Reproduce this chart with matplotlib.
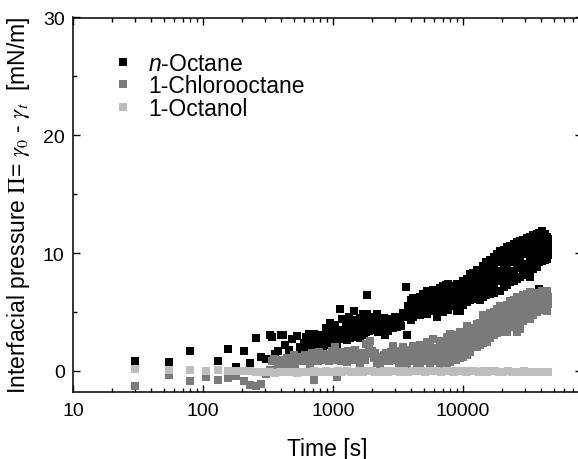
import matplotlib
matplotlib.use("Agg")
import matplotlib.pyplot as plt
from matplotlib.ticker import LogLocator, NullFormatter, MultipleLocator

plt.rcParams['font.family'] = ['Liberation Sans', 'DejaVu Sans']
plt.rcParams['mathtext.fontset'] = 'custom'
plt.rcParams['mathtext.rm'] = 'Liberation Sans'
plt.rcParams['mathtext.it'] = 'Liberation Sans:italic'

# n-Octane: early scattered points
octane_t = [30, 55, 80, 130, 155, 180, 205, 230, 255, 280, 305, 325, 340, 355, 380,
            395, 410, 430, 455, 480, 500, 530, 555, 575, 600, 620, 630, 640, 655, 680,
            690, 705, 720, 730, 750, 760, 770, 790, 800, 820, 840, 850, 870, 880, 900,
            910, 930, 950, 960, 980, 990, 1010, 1040, 1050, 1070, 1090, 1100, 1130, 1140,
            1160, 1180, 1200, 1220, 1250, 1280, 1300, 1330, 1350, 1370, 1400, 1420, 1440,
            1450, 1480, 1500, 1530, 1550, 1560, 1600, 1620, 1650, 1680, 1700, 1720, 1750,
            1780, 1800, 1820, 1840, 1870, 1900, 1950, 1980, 2000, 2050, 2100, 2130, 2170,
            2200, 2250, 2300, 2350, 2380, 2440, 2480, 2500, 2550, 2600, 2660, 2720, 2800,
            2880, 2950, 3000, 3100, 3180, 3270, 3350, 3450, 3550, 3620, 3680, 3790]
octane_v = [0.85, 0.75, 1.7, 0.8, 1.85, 0.3, 1.65, 0.7, 2.75, 1.2, 1.0, 3.0, 2.9, 1.4, 1.7,
            3.0, 3.05, 2.2, 1.8, 2.7, 1.0, 2.95, 2.0, 1.6, 2.4, 2.9, 1.9, 2.6, 3.15, 2.3,
            1.5, 2.55, 3.1, 1.9, 2.0, 2.8, 2.2, 1.7, 2.6, 3.0, 1.9, 2.3, 2.9, 3.6, 3.2,
            2.6, 3.4, 4.1, 2.2, 3.0, 2.7, 2.5, 3.9, 3.4, 2.2, 3.2, 2.8, 5.25, 2.7,
            3.5, 4.4, 2.9, 3.4, 3.9, 2.6, 3.2, 4.6, 2.8, 3.5, 4.1, 3.3, 3.9,
            5.1, 2.9, 3.5, 4.3, 3.8, 3.0, 2.8, 4.5, 4.2, 3.7, 4.8, 3.0, 4.0,
            3.3, 3.9, 6.45, 4.85, 4.4, 3.4, 3.5, 3.9, 4.6, 4.3, 3.6, 4.0, 4.85,
            3.3, 3.6, 4.4, 3.3, 3.7, 4.1, 4.5, 3.0, 3.8, 4.2, 3.4, 3.9, 4.4,
            3.6, 4.0, 4.6, 3.7, 4.1, 4.4, 3.8, 4.9, 4.6, 7.1, 3.05, 5.5]

# n-Octane: dense late band
octane_late_t = [3950] * 4 + [4150] * 4 + [4400] * 3 + [4680] * 4 + [4950] * 4 + [5250] * 5 + \
                [5500] * 4 + [5870] * 5 + [6270] * 5 + [6600] * 5 + [7000] * 5 + [7400] * 5 + \
                [7710] * 5 + [8200] * 4 + [8920] * 5 + [9480] * 5 + [10000] * 5 + [10700] * 5 + \
                [11320] * 5 + [12000] * 5 + [12700] * 5 + [13500] * 5 + [14250] * 5 + [15100] * 5 + \
                [16140] * 5 + [17200] * 5 + [18200] * 5 + [19300] * 5 + [20500] * 5 + [21700] * 5 + \
                [23000] * 5 + [24500] * 5 + [25900] * 5 + [27500] * 5 + [29000] * 5 + [30800] * 5 + \
                [32700] * 6 + [34700] * 5 + [36800] * 5 + [38700] * 6 + [40700] * 5 + [42500] * 5 + \
                [44000] * 4 + [45000] * 4
octane_late_v = [4.3, 5.0, 5.6, 6.0, 4.6, 5.2, 5.6, 6.2, 4.8, 5.3, 5.9, 4.7, 5.1, 5.5, 6.24,
                 5.0, 5.4, 5.8, 6.5, 4.8, 5.2, 5.6, 6.2, 6.8,
                 5.2, 5.8, 6.3, 6.8, 5.1, 5.5, 6.0, 6.5, 6.9, 4.55, 5.1, 5.6, 6.1, 6.6,
                 5.3, 5.7, 6.2, 6.6, 7.0, 5.0, 5.5, 5.9, 6.5, 7.2, 5.4, 5.9, 6.4, 6.9, 7.3,
                 5.2, 5.7, 6.1, 6.8, 7.37, 5.5, 6.0, 6.6, 7.2, 5.1, 5.6, 6.0, 6.7, 7.37,
                 5.1, 5.8, 6.4, 6.9, 7.3, 5.6, 6.2, 6.7, 7.2, 7.6, 5.8, 6.4, 6.9, 7.4, 7.8,
                 6.0, 6.6, 7.1, 7.6, 8.2, 6.1, 6.7, 7.2, 7.8, 8.3, 6.2, 6.9, 7.5, 8.1, 8.6,
                 6.0, 6.7, 7.3, 7.9, 8.5, 6.24, 6.9, 7.6, 8.3, 8.9, 6.4, 7.1, 7.7, 8.5, 9.2,
                 6.5, 7.2, 8.0, 8.7, 9.4, 6.6, 7.4, 8.2, 9.0, 9.7, 6.8, 7.7, 8.5, 9.2, 9.9,
                 6.8, 7.6, 8.4, 9.3, 10.2, 7.1, 7.9, 8.8, 9.6, 10.3, 7.3, 8.1, 9.0, 9.8, 10.5,
                 7.5, 8.3, 9.2, 9.9, 10.6, 7.6, 8.5, 9.4, 10.1, 10.8, 7.8, 8.7, 9.5, 10.2, 10.9,
                 8.0, 8.8, 9.7, 10.4, 11.0, 8.1, 9.0, 9.9, 10.5, 11.1, 8.3, 9.1, 10.0, 10.7, 11.3,
                 8.0, 8.9, 9.5, 10.2, 10.8, 11.4, 8.64, 9.4, 10.1, 10.8, 11.5,
                 8.8, 9.5, 10.2, 10.9, 11.6, 6.95, 9.2, 9.9, 10.5, 11.1, 11.7,
                 9.3, 9.9, 10.6, 11.2, 11.9, 9.4, 10.0, 10.4, 11.0, 11.6,
                 9.5, 10.3, 10.9, 11.4, 9.8, 10.4, 10.8, 11.2]

# 1-Chlorooctane: early / middle points
chloro_t = [30, 55, 80, 105, 130, 155, 180, 205, 230, 255, 280, 305, 330, 340, 352,
            380, 395, 405, 427, 440, 450, 470, 480, 500, 510, 540, 560, 575, 610, 630,
            650, 670, 690, 715, 740, 760, 780, 800, 820, 860, 880, 895, 930, 960, 980,
            1000, 1030, 1060, 1070, 1100, 1120, 1150, 1200, 1240, 1270, 1300, 1330, 1370,
            1400, 1440, 1480, 1520, 1550, 1590, 1620, 1660, 1700, 1750, 1800, 1850, 1900,
            1926, 1980, 2050, 2100, 2170, 2230, 2300, 2360, 2420, 2480, 2550, 2620, 2700,
            2780, 2850, 2900, 3000, 3050, 3120, 3200, 3280, 3350, 3400]
chloro_v = [-1.25, -0.35, -0.9, -0.5, -0.75, -0.6, -0.45, -0.85, -1.2, -1.3, -1.15, -0.3, 0.1, 0.85, 1.0,
            0.3, 0.9, 0.6, 0.75, 1.1, 0.4, 0.5, 1.0, 1.3, 0.6, 1.2, 1.0, 0.8, 1.3, 1.1,
            0.9, 0.6, 1.5, -0.75, 1.1, 0.8, 1.6, 1.2, 0.9, 1.4, 1.0, 1.3, 0.8, 1.2, 1.7,
            0.9, 2.0, 1.5, -0.55, 1.2, 1.0, 0.8, 1.6, 1.2, 0.75, 1.7, 1.3, 1.4,
            1.0, 0.9, 1.8, 1.5, 1.2, 1.0, 0.6, 1.2, 1.5, 0.9, 2.3, 1.4, 1.9,
            2.57, 1.7, 1.1, 1.5, 0.7, 1.2, 0.45, 0.8, 1.0, 1.3, 1.5, 1.0, 0.8,
            1.6, 1.2, 2.14, 0.9, 1.3, 1.5, 0.7, 1.1, 1.7, 1.3]

# 1-Chlorooctane: dense late band
chloro_late_t = [3480] * 2 + [3680] * 3 + [3850] * 3 + [4000] * 2 + [4150] * 3 + [4400] * 3 + \
                [4680] * 4 + [4950] * 3 + [5250] * 3 + [5550] * 4 + [5900] * 3 + [6270] * 3 + \
                [6600] * 5 + [7000] * 3 + [7520] * 5 + [7940] * 5 + [8400] * 3 + [8900] * 5 + \
                [9480] * 5 + [10000] * 3 + [10700] * 5 + [11300] * 4 + [12000] * 3 + [12700] * 4 + \
                [13500] * 4 + [14250] * 5 + [15300] * 4 + [16140] * 4 + [17200] * 4 + [18200] * 4 + \
                [19300] * 5 + [20500] * 4 + [21700] * 5 + [23000] * 4 + [24500] * 4 + [25900] * 5 + \
                [27500] * 4 + [29000] * 4 + [30800] * 4 + [32700] * 5 + [34700] * 4 + [36800] * 4 + \
                [38700] * 3 + [40700] * 3 + [42500] * 3 + [44000] * 4 + [45000] * 2
chloro_late_v = [1.2, 2.0, 0.45, 1.0, 1.4, 0.9, 1.4, 1.8, 0.8, 1.5, 1.2, 1.7, 2.14, 0.7, 1.2, 1.6,
                 0.6, 1.1, 1.6, 2.2, 0.8, 1.3, 1.7, 1.1, 1.8, 2.43, 0.7, 1.2, 1.6, 2.3,
                 1.2, 1.9, 2.7, 0.8, 1.4, 1.9, 0.6, 1.0, 1.4, 2.0, 2.5, 1.0, 1.6, 2.2,
                 0.6, 1.1, 1.6, 2.2, 2.9, 0.73, 1.3, 1.9, 2.5, 3.14, 1.0, 1.7, 2.4,
                 0.9, 1.3, 1.7, 2.3, 3.0, 1.1, 1.6, 2.2, 2.8, 3.28, 1.2, 1.9, 2.6,
                 1.3, 1.9, 2.5, 3.2, 3.84, 1.6, 2.3, 3.0, 3.5, 2.14, 2.8, 3.6, 2.0, 2.6, 3.2, 4.0,
                 2.2, 2.8, 3.5, 4.1, 2.4, 3.0, 3.5, 4.1, 4.7, 2.43, 3.0, 3.6, 4.2,
                 2.8, 3.56, 4.2, 4.9, 3.0, 3.7, 4.4, 5.0, 3.2, 3.9, 4.6, 5.25,
                 3.5, 4.0, 4.5, 5.0, 5.5, 3.3, 4.1, 4.7, 5.4, 3.28, 3.9, 4.4, 5.0, 5.6,
                 3.7, 4.3, 5.0, 5.9, 3.9, 4.6, 5.3, 6.0, 3.3, 4.1, 4.8, 5.5, 6.24,
                 3.56, 4.4, 5.2, 6.2, 4.2, 4.9, 5.6, 6.4, 4.5, 5.2, 5.8, 6.5,
                 4.4, 5.0, 5.5, 6.1, 6.67, 4.7, 5.1, 5.7, 6.3, 5.0, 5.5, 6.0, 6.6,
                 5.2, 5.8, 6.4, 5.4, 6.1, 6.8, 5.3, 5.9, 6.5, 5.1, 5.5, 6.1, 6.8, 5.7, 6.3]

# 1-Octanol
octanol_t = [30, 55, 80, 105, 130, 155, 180, 205, 230, 255, 280, 305, 330, 360, 390,
             420, 455, 490, 530, 570, 615, 660, 710, 765, 820, 880, 950, 1020, 1100,
             1180, 1270, 1370, 1470, 1580, 1700, 1830, 1970, 2120, 2280, 2450, 2640,
             2840, 3050, 3280, 3530, 3800, 4090, 4400, 4730, 5090, 5480, 5890, 6340,
             6820, 7340, 7890, 8490, 9140, 9830, 10580, 11380, 12240, 13170, 14170,
             15250, 16400, 17650, 18990, 20430, 21980, 23650, 25440, 27370, 29450,
             31690, 34090, 36680, 39460, 42000, 45000]
octanol_v = [0.15, 0.1, 0.05, 0.02, 0.05, 0.0, -0.02, 0.0, -0.05, -0.08, -0.1, -0.12, -0.1, -0.15, -0.1,
             -0.12, -0.08, -0.1, -0.15, -0.1, -0.08, -0.12, -0.05, -0.1, -0.08, -0.05, -0.1, -0.06, -0.04,
             -0.08, -0.05, -0.1, -0.06, -0.04, -0.08, -0.05, -0.02, -0.06, -0.08, -0.04, -0.06,
             -0.03, -0.05, -0.08, -0.04, -0.06, -0.05, -0.02, -0.04, -0.06, -0.05, -0.03, -0.05,
             -0.07, -0.04, -0.05, -0.06, -0.03, -0.05, -0.06, -0.04, -0.05, -0.07, -0.05,
             -0.06, -0.04, -0.05, -0.07, -0.06, -0.05, -0.08, -0.06, -0.07, -0.05,
             -0.08, -0.07, -0.06, -0.08, -0.07, -0.06]

fig = plt.figure(figsize=(5.78, 4.6), dpi=100)
ax = fig.add_axes([73 / 578, 67 / 460, 509 / 578, 374.5 / 460])

ms = 6.0
ax.plot(octane_t + octane_late_t, octane_v + octane_late_v, 's', color='#000000',
        ms=ms, mew=0, label=r'$\it{n}$-Octane')
ax.plot(chloro_t + chloro_late_t, chloro_v + chloro_late_v, 's', color='#7a7a7a',
        ms=ms, mew=0, label='1-Chlorooctane')
ax.plot(octanol_t, octanol_v, 's', color='#bdbdbd', ms=ms, mew=0, label='1-Octanol')

ax.set_xscale('log')
ax.set_xlim(10, 10 ** 4.915)
ax.set_ylim(-1.8, 30)
ax.xaxis.set_minor_locator(LogLocator(base=10, subs=range(2, 10), numticks=10))
ax.xaxis.set_minor_formatter(NullFormatter())
ax.set_xticks([10, 100, 1000, 10000])
ax.set_xticklabels(['10', '100', '1000', '10000'])
ax.yaxis.set_major_locator(MultipleLocator(10))
ax.yaxis.set_minor_locator(MultipleLocator(5))

ax.tick_params(which='both', direction='in', top=True, right=True, labelsize=14, width=1)
ax.tick_params(which='major', length=5)
ax.tick_params(which='minor', length=3)
ax.tick_params(axis='x', pad=7)
ax.tick_params(axis='y', pad=6)
for s in ax.spines.values():
    s.set_linewidth(1.1)

ax.set_xlabel('Time [s]', fontsize=16.5)
ax.xaxis.set_label_coords(0.5, -0.12)
ylab = ax.set_ylabel(r'Interfacial pressure $\Pi$= $\gamma_0$ - $\gamma_t$  [mN/m]', fontsize=16.5)
ylab.set_math_fontfamily('stix')
ax.yaxis.set_label_coords(-0.08, 0.5)

leg = ax.legend(loc='upper left', bbox_to_anchor=(0.083, 0.908), frameon=False,
                fontsize=16.5, handletextpad=0.75, labelspacing=-0.02, handlelength=0.7,
                borderaxespad=0, borderpad=0)

fig.savefig('out.png', dpi=100)
